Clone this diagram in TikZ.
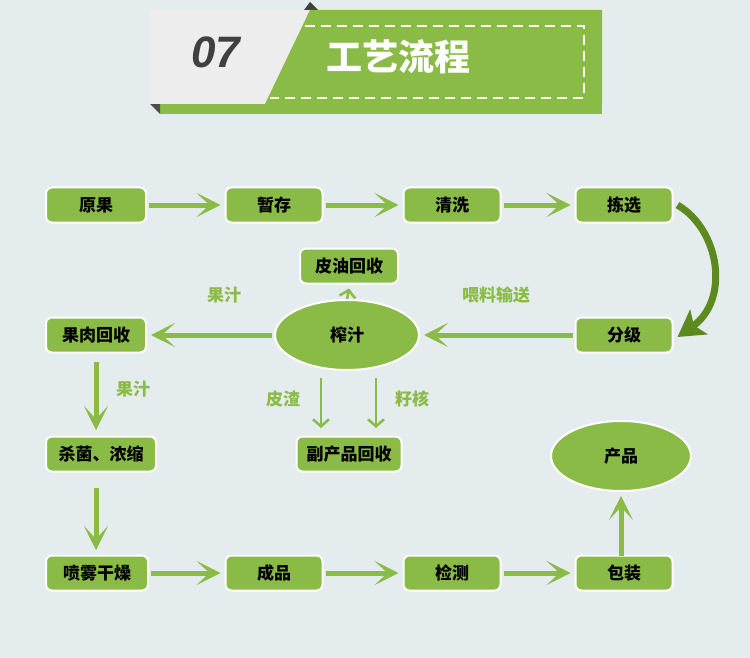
\documentclass[tikz,border=0pt]{standalone}
\usepackage{fontspec}
\setmainfont{Noto Sans CJK SC}
\newfontfamily\latinf{Liberation Sans}
\usetikzlibrary{arrows.meta,shapes.geometric}
\definecolor{gr}{HTML}{8BBB47}
\definecolor{dg}{HTML}{5C8A1E}
\definecolor{bg}{HTML}{E4ECEE}
\tikzset{
 box/.style={draw=white,line width=2pt,fill=gr,rounded corners=6pt,minimum height=35pt,font=\fontsize{17}{17}\selectfont\bfseries,text=black,inner sep=0pt},
 ell/.style={ellipse,draw=white,line width=2pt,fill=gr,font=\fontsize{17}{17}\selectfont\bfseries,inner sep=0pt},
 big/.style={draw=gr,line width=5pt,-{Stealth[length=24pt,width=24pt,inset=13pt]}},
 thin/.style={draw=gr,line width=2.5pt,-{Straight Barb[length=7pt,width=16pt]}},
 lab/.style={text=gr,font=\fontsize{17}{17}\selectfont\bfseries}
}
\begin{document}
\begin{tikzpicture}[x=1pt,y=-1pt]
\fill[bg] (0,0) rectangle (750,658);
\useasboundingbox (0,0) rectangle (750,658);
% header
\fill[gr] (160,104) rectangle (602,114);
\fill[black!70] (150,104) -- (160,104) -- (160,114) -- cycle;
\fill[black!75] (310,2) -- (318,10) -- (304,10) -- cycle;
\fill[black!7] (150,10) rectangle (310,104);
\fill[gr] (310,10) -- (602,10) -- (602,104) -- (265,104) -- cycle;
\draw[white,line width=2.5pt,dash pattern=on 10pt off 6pt] (305,26) -- (584,26) -- (584,98) -- (270,98);
\node[text=black!75,font=\fontsize{44}{44}\selectfont\latinf\bfseries\itshape] (t07) at (216,52) {07};
\node[text=white,font=\fontsize{36}{36}\selectfont\bfseries] (title) at (398,57) {工艺流程};
% nodes
\node[box,minimum width=100pt] (yg) at (96,205) {原果};
\node[box,minimum width=97pt] (zc) at (274,205) {暂存};
\node[box,minimum width=97pt] (qx) at (452,205) {清洗};
\node[box,minimum width=97pt] (jx) at (624,205) {拣选};
\node[box,minimum width=98pt] (py) at (349,266) {皮油回收};
\node[box,minimum width=97pt] (fj) at (624,335) {分级};
\node[box,minimum width=100pt] (gr1) at (96,335) {果肉回收};
\node[ell,minimum width=144pt,minimum height=70pt] (zz) at (347,335) {榨汁};
\node[box,minimum width=105pt] (fc) at (349,454) {副产品回收};
\node[box,minimum width=110pt] (sj) at (101,454) {杀菌、浓缩};
\node[ell,minimum width=140pt,minimum height=70pt] (cp) at (621,456) {产品};
\node[box,minimum width=102pt] (pw) at (97,573) {喷雾干燥};
\node[box,minimum width=97pt] (cp2) at (274,573) {成品};
\node[box,minimum width=97pt] (jc) at (452,573) {检测};
\node[box,minimum width=97pt] (bz) at (624,573) {包装};
% arrows
\draw[big] (yg.east) ++(2,0) -- ([xshift=-4pt]zc.west);
\draw[big] (zc.east) ++(2,0) -- ([xshift=-4pt]qx.west);
\draw[big] (qx.east) ++(2,0) -- ([xshift=-4pt]jx.west);
\draw[big] (fj.west) ++(-2,0) -- ([xshift=4pt]zz.east);
\draw[big] (zz.west) ++(-2,0) -- ([xshift=4pt]gr1.east);
\draw[big] (pw.east) ++(2,0) -- ([xshift=-4pt]cp2.west);
\draw[big] (cp2.east) ++(2,0) -- ([xshift=-4pt]jc.west);
\draw[big] (jc.east) ++(2,0) -- ([xshift=-4pt]bz.west);
\draw[big] (96,362) -- (96,430);
\draw[big] (96,488) -- (96,550);
\draw[big] (621,556) -- (621,496);
\draw[dg,line width=7pt,-{Stealth[length=26pt,width=30pt,inset=6pt]}] (jx.east) ++(4,0) .. controls (720,230) and (730,300) .. ([xshift=4pt,yshift=-2pt]fj.east);
\draw[thin] (zz.north) -- ([yshift=-4pt]py.south);
\coordinate (a1) at (321,428);
\coordinate (a2) at (376,428);
\draw[thin] (321,378) -- (a1);
\draw[thin] (376,378) -- (a2);
% labels
\node[lab] (l1) at (224,295) {果汁};
\node[lab] (l2) at (133,389) {果汁};
\node[lab] (l3) at (496,295) {喂料输送};
\node[lab] (l4) at (283,399) {皮渣};
\node[lab] (l5) at (412,399) {籽核};
\end{tikzpicture}
\end{document}
